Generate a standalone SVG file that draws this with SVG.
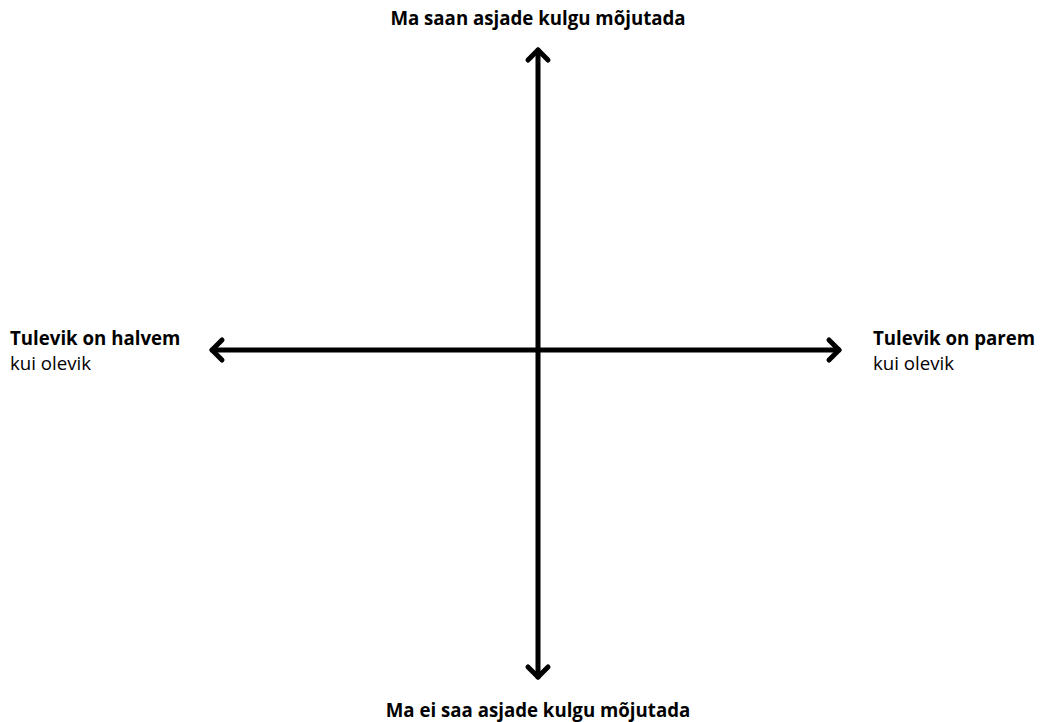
<svg xmlns="http://www.w3.org/2000/svg" width="1040" height="722" viewBox="0 0 1040 722">
<style>
.ax{stroke:#000;stroke-width:5;fill:none;stroke-linecap:round;stroke-linejoin:round}
.t{font-family:"Open Sans","Noto Sans",sans-serif;font-size:18.67px;fill:#000}
.b{font-weight:700}
</style>
<rect width="1040" height="722" fill="#fff"/>
<g id="connectors">
<line class="ax" x1="538" y1="50" x2="538" y2="677"/>
<polyline class="ax" points="528,60 538,50 548,60"/>
<polyline class="ax" points="528,667 538,677 548,667"/>
<line class="ax" x1="212" y1="350" x2="839" y2="350"/>
<polyline class="ax" points="222,340 212,350 222,360"/>
<polyline class="ax" points="829,340 839,350 829,360"/>
</g>
<g id="top"><text class="t b" x="538" y="25" text-anchor="middle">Ma saan asjade kulgu mõjutada</text></g>
<g id="bottom"><text class="t b" x="538" y="717" text-anchor="middle">Ma ei saa asjade kulgu mõjutada</text></g>
<g id="left"><text class="t b" x="10" y="345">Tulevik on halvem</text><text class="t" x="10" y="370">kui olevik</text></g>
<g id="right"><text class="t b" x="873" y="345">Tulevik on parem</text><text class="t" x="873" y="370">kui olevik</text></g>
</svg>
